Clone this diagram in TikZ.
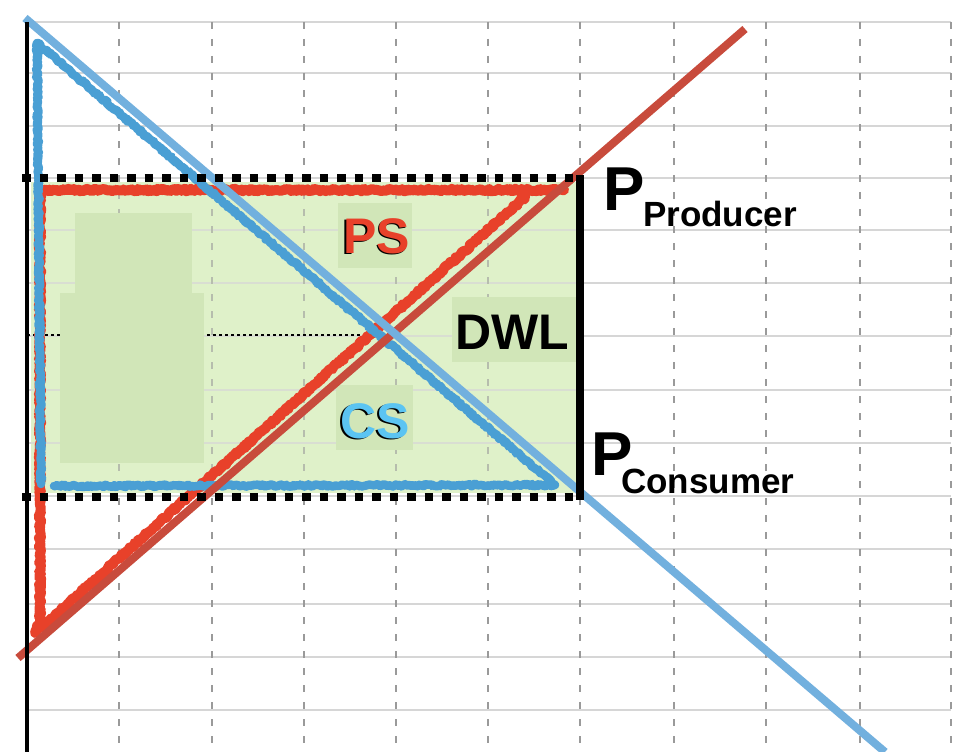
\documentclass[tikz,border=0pt]{standalone}
\usepackage{fontspec}
\setmainfont{Liberation Sans}
\usetikzlibrary{decorations.pathmorphing}
\definecolor{gridgray}{HTML}{D6D6D6}
\definecolor{dashgray}{HTML}{9A9A9A}
\definecolor{lightgreen}{HTML}{DFF1C9}
\definecolor{midgreen}{HTML}{D1E6B8}
\definecolor{demandblue}{HTML}{72B0DE}
\definecolor{supplyred}{HTML}{C84B3C}
\definecolor{chalkred}{HTML}{E8412A}
\definecolor{chalkblue}{HTML}{4A9FD4}
\definecolor{csblue}{HTML}{5BC4F2}
\tikzset{
  hgrid/.style={gridgray, line width=1.4pt},
  vgrid/.style={dashgray, line width=1.6pt, dash pattern=on 7pt off 10pt},
  chalk/.style={line width=10pt, line join=round, line cap=round, decorate,
    decoration={random steps, segment length=1.5pt, amplitude=1.2pt}},
  chalkedge/.style={line width=3.5pt, line join=round, line cap=round, decorate,
    decoration={random steps, segment length=1.2pt, amplitude=2.6pt}},
  curve/.style={line width=8pt},
  thickdots/.style={black, line width=7.5pt, dash pattern=on 8.5pt off 9pt},
  bigtxt/.style={inner sep=0pt, anchor=base west, font=\fontsize{50}{50}\selectfont\bfseries},
  plabel/.style={inner sep=0pt, anchor=base west, font=\fontsize{62}{62}\selectfont\bfseries},
  sublabel/.style={inner sep=0pt, anchor=base west, font=\fontsize{35}{35}\selectfont\bfseries}
}
\begin{document}
\begin{tikzpicture}[x=1pt, y=-1pt]
\useasboundingbox (0,0) rectangle (972,752);
\fill[white] (0,0) rectangle (972,752);
% horizontal grid
\foreach \yy in {22,73,126,178,230,283,336,390,443,496,549,604,657,710}
  \draw[hgrid] (27,\yy) -- (951,\yy);
% vertical dashed grid
\foreach \xx in {119,212,304,396,488,580,674,766,860,951}
  \draw[vgrid] (\xx,22) -- (\xx,752);
% green region
\fill[lightgreen] (31,182) rectangle (578,493);
\begin{scope}
\clip (31,182) rectangle (578,493);
\foreach \yy in {230,283,336,390,443}
  \draw[gridgray!70!lightgreen, line width=1.4pt] (27,\yy) -- (580,\yy);
\foreach \xx in {119,212,304,396,488}
  \draw[vgrid, dashgray!60!lightgreen] (\xx,22) -- (\xx,752);
\end{scope}
% thin dotted equilibrium line
\draw[black, line width=1.8pt, dash pattern=on 3pt off 3pt] (27,335) -- (397,335);
% inner blocks
\fill[midgreen] (75,213) rectangle (192,294);
\fill[midgreen] (60,293) rectangle (204,463);
% label backgrounds
\fill[midgreen] (338,203) rectangle (412,268);
\fill[midgreen] (336,385) rectangle (413,450);
\fill[midgreen] (452,297) rectangle (576,362);
% chalk triangles
\draw[chalk, chalkred] (525,197) -- (35,633) -- (40,621) -- (40,190) -- (564,190);
\draw[chalkedge, chalkred] (525,197) -- (35,633) -- (40,621) -- (40,190) -- (564,190);
\draw[chalk, chalkblue, line width=8.5pt] (41,484) -- (37,43) -- (555,485) -- (54,486);
\draw[chalkedge, chalkblue] (41,484) -- (37,43) -- (555,485) -- (54,486);
% demand & supply curves
\draw[curve, supplyred] (18,658) -- (745,29);
\draw[curve, demandblue] (25,18) -- (885,752);
% price lines
\draw[thickdots] (22,178) -- (580,178);
\draw[thickdots] (22,497) -- (580,497);
\draw[black, line width=8.5pt] (580,175) -- (580,500);
% axis
\draw[black, line width=3.2pt] (27,22) -- (27,752);
% labels
\node[bigtxt, black] (psshadow) at (341.5,254.5) {PS};
\node[bigtxt, chalkred] (ps) at (343,253) {PS};
\node[bigtxt, black] (csshadow) at (338.5,439.5) {CS};
\node[bigtxt, csblue] (cs) at (340,438) {CS};
\node[bigtxt, black] (dwl) at (455,349) {DWL};
\node[plabel] (pp) at (603,210) {P};
\node[sublabel] (prod) at (643,226) {Producer};
\node[plabel] (pc) at (591,475) {P};
\node[sublabel] (cons) at (621,493) {Consumer};
\end{tikzpicture}
\end{document}
